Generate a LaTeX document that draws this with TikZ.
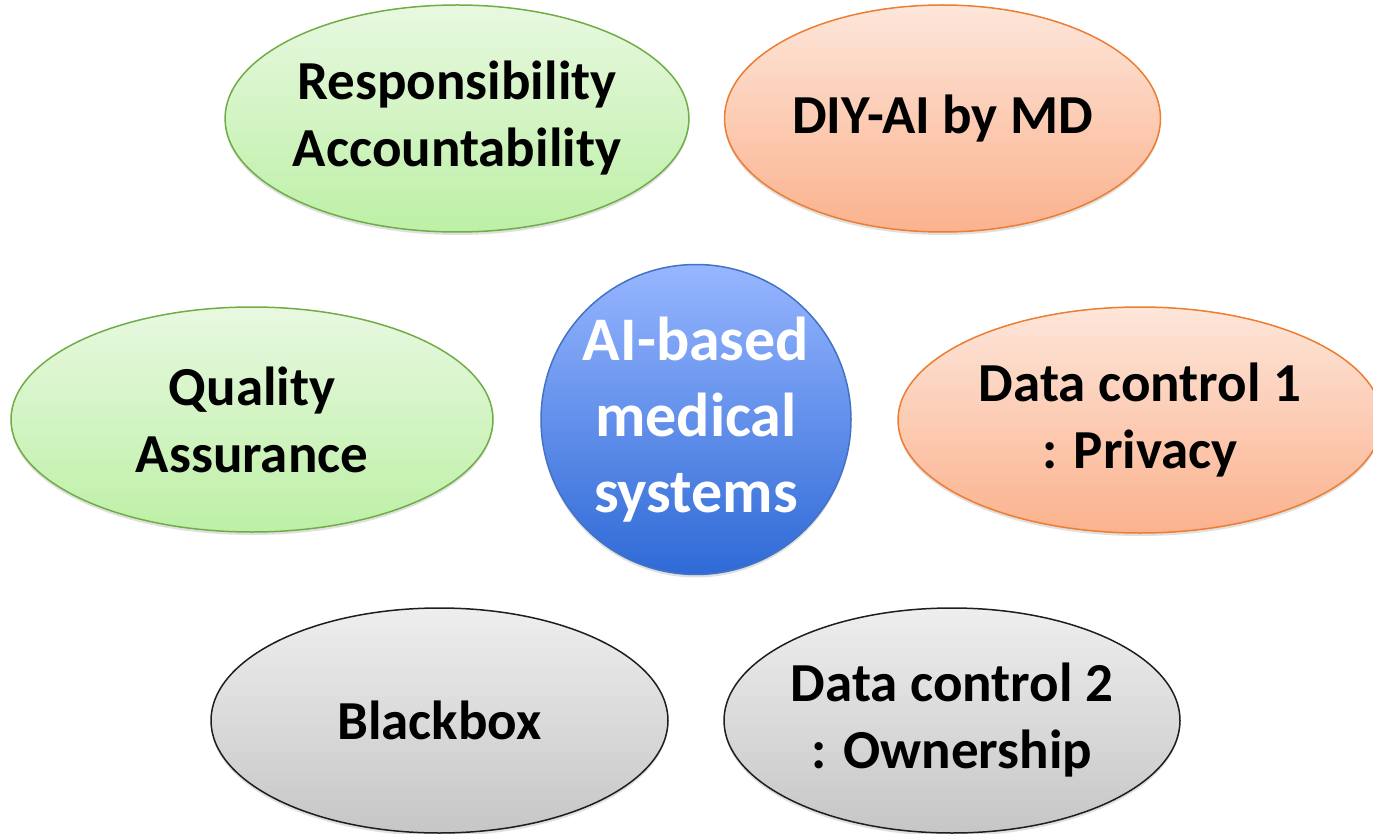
\documentclass[tikz,border=0pt]{standalone}
\usepackage{fontspec}
\setmainfont{Carlito}
\usetikzlibrary{shapes.geometric,shadows}

\definecolor{grnTop}{HTML}{E8F8E0}
\definecolor{grnBot}{HTML}{BDF0A6}
\definecolor{grnLine}{HTML}{70AD47}
\definecolor{orgTop}{HTML}{FDE6DA}
\definecolor{orgBot}{HTML}{FBB28E}
\definecolor{orgLine}{HTML}{ED7D31}
\definecolor{gryTop}{HTML}{EEEEEE}
\definecolor{gryBot}{HTML}{C6C6C6}
\definecolor{gryLine}{HTML}{1E1E1E}
\definecolor{bluTop}{HTML}{97B6FF}
\definecolor{bluBot}{HTML}{2E6AD6}
\definecolor{bluLine}{HTML}{4472C4}

\tikzset{
  topic/.style={ellipse, inner sep=0pt, line width=1.5pt, align=center,
    font=\fontsize{55}{67}\selectfont\bfseries,
    drop shadow={shadow xshift=0pt, shadow yshift=-3pt, opacity=.12, fill=black}},
  greenfill/.style={topic, draw=grnLine, top color=grnTop, bottom color=grnBot},
  orangefill/.style={topic, draw=orgLine, top color=orgTop, bottom color=orgBot},
  greyfill/.style={topic, draw=gryLine, top color=gryTop, bottom color=gryBot},
  hub/.style={circle, inner sep=0pt, line width=1.5pt, align=center, text=white,
    draw=bluLine, top color=bluTop, bottom color=bluBot,
    font=\fontsize{62}{76}\selectfont\bfseries,
    drop shadow={shadow xshift=0pt, shadow yshift=-3pt, opacity=.12, fill=black}},
}

\begin{document}
\begin{tikzpicture}[x=1pt, y=-1pt]
  \useasboundingbox (0,0) rectangle (1373,834);
  \clip (0,0) rectangle (1373,834);

  \node[greenfill, minimum width=450pt, minimum height=227pt] (resp) at (457,118.5)
    {Responsibility\\Accountability};
  \node[orangefill, minimum width=436pt, minimum height=227pt] (diy) at (942.5,118.5)
    {DIY-AI by MD};
  \node[greenfill, minimum width=482pt, minimum height=225pt] (qa) at (252,419.5)
    {Quality\\Assurance};
  \node[hub, minimum size=310pt] (core) at (696,419.5)
    {AI-based\\medical\\systems};
  \node[orangefill, minimum width=484pt, minimum height=226pt] (priv) at (1140,420)
    {Data control 1\\: Privacy};
  \node[greyfill, minimum width=457pt, minimum height=225pt] (bbox) at (439.5,720.5)
    {Blackbox};
  \node[greyfill, minimum width=456pt, minimum height=225pt] (own) at (952,720.5)
    {Data control 2\\: Ownership};
\end{tikzpicture}
\end{document}
